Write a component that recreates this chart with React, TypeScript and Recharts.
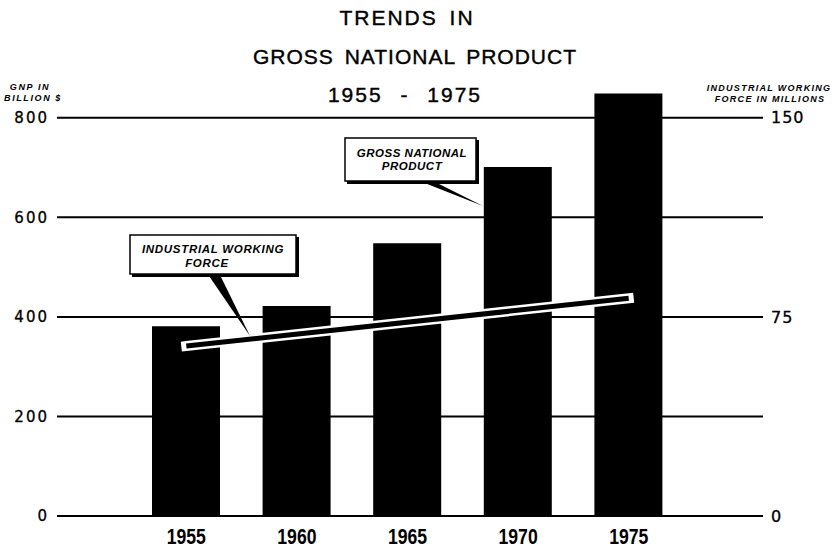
import React from 'react';
import { BarChart, Bar, Line, XAxis, YAxis, CartesianGrid } from 'recharts';

const years = ['1955', '1960', '1965', '1970', '1975'];
const gnpBillions = [381, 422, 548, 701, 849];
const workForceMillions: (number | null)[] = [64, null, null, null, 82];
const leftTicks = [0, 200, 400, 600, 800];
const rightTicks = [0, 75, 150];

const data = years.map((y, i) => ({ year: y, gnp: gnpBillions[i], force: workForceMillions[i] }));

const titleFont = '"Liberation Sans", Arial, sans-serif';
const tickFont = '"DejaVu Sans", sans-serif';

const YearTick = (props: any) => {
  const { x, y, payload } = props;
  return (
    <g transform={`translate(${x},${y})`}>
      <text
        transform="scale(0.8,1)"
        textAnchor="middle"
        dy={20}
        fill="#000"
        fontFamily={titleFont}
        fontWeight="bold"
        fontSize={22}
      >
        {payload.value}
      </text>
    </g>
  );
};

export default function App() {
  return (
    <div style={{ position: 'absolute', left: 0, top: 0, width: 836, height: 550, background: '#fff' }}>
      <BarChart
        width={836}
        height={550}
        data={data}
        margin={{ top: 68, right: 0, bottom: 0, left: 0 }}
        barCategoryGap={0}
      >
        <CartesianGrid horizontal vertical={false} syncWithTicks stroke="#000" strokeWidth={2} strokeOpacity={1} yAxisId="left" />
        <XAxis
          dataKey="year"
          axisLine={false}
          tickLine={false}
          padding={{ left: 74, right: 79 }}
          height={34}
          tickMargin={2}
          tick={<YearTick />}
        />
        <YAxis
          yAxisId="left"
          orientation="left"
          width={57}
          domain={[0, 900]}
          ticks={leftTicks}
          axisLine={false}
          tickLine={false}
          tick={{ fill: '#000', stroke: '#000', strokeWidth: 0.3, fontSize: 15, fontFamily: tickFont, letterSpacing: 2 }}
        />
        <YAxis
          yAxisId="right"
          orientation="right"
          width={73}
          domain={[0, 168.75]}
          ticks={rightTicks}
          axisLine={false}
          tickLine={false}
          tick={{ fill: '#000', stroke: '#000', strokeWidth: 0.3, fontSize: 16, fontFamily: tickFont, letterSpacing: 1, textAnchor: 'start' }}
        />
        <Bar yAxisId="left" dataKey="gnp" fill="#000" barSize={68} isAnimationActive={false} />
        <Line
          yAxisId="right"
          dataKey="force"
          type="linear"
          connectNulls
          stroke="#fff"
          strokeWidth={10}
          strokeLinecap="square"
          dot={false}
          activeDot={false}
          isAnimationActive={false}
        />
        <Line
          yAxisId="right"
          dataKey="force"
          type="linear"
          connectNulls
          stroke="#000"
          strokeWidth={5}
          strokeLinecap="butt"
          dot={false}
          activeDot={false}
          isAnimationActive={false}
        />
      </BarChart>
      <svg
        width={836}
        height={550}
        style={{ position: 'absolute', left: 0, top: 0, pointerEvents: 'none' }}
      >
        <g fontFamily={titleFont} fontSize={21} fill="#000" stroke="#000" strokeWidth={0.4} textAnchor="middle">
          <text x={407} y={25} letterSpacing={2} wordSpacing={4}>TRENDS IN</text>
          <text x={415} y={64} letterSpacing={1} wordSpacing={4}>GROSS NATIONAL PRODUCT</text>
          <text x={405} y={102} letterSpacing={2} wordSpacing={10}>1955 - 1975</text>
        </g>
        <g fontFamily={titleFont} fontSize={9} fontWeight="bold" fontStyle="italic" fill="#000" textAnchor="middle" letterSpacing={1.6}>
          <text x={30} y={90}>GNP IN</text>
          <text x={33} y={101}>BILLION $</text>
        </g>
        <g fontFamily={titleFont} fontSize={9} fontWeight="bold" fontStyle="italic" fill="#000" textAnchor="middle" letterSpacing={1.3}>
          <text x={769} y={91}>INDUSTRIAL WORKING</text>
          <text x={770} y={102}>FORCE IN MILLIONS</text>
        </g>
        {/* callout: industrial working force */}
        <polygon points="207,273 219,273 250,336" fill="#000" />
        <rect x={132} y={237} width={167} height={40} fill="#000" />
        <rect x={130} y={235} width={166} height={39} fill="#fff" stroke="#000" strokeWidth={1.5} />
        <g fontFamily={titleFont} fontSize={11.5} fontWeight="bold" fontStyle="italic" fill="#000" textAnchor="middle" letterSpacing={0.7}>
          <text x={213} y={253}>INDUSTRIAL WORKING</text>
          <text x={207} y={267}>FORCE</text>
        </g>
        {/* callout: gross national product */}
        <polygon points="417,180 431,180 483,206" fill="#000" />
        <rect x={347} y={140} width={132} height={44} fill="#000" />
        <rect x={345} y={138} width={131} height={43} fill="#fff" stroke="#000" strokeWidth={1.5} />
        <g fontFamily={titleFont} fontSize={11.5} fontWeight="bold" fontStyle="italic" fill="#000" textAnchor="middle" letterSpacing={0.5}>
          <text x={412} y={157}>GROSS NATIONAL</text>
          <text x={412} y={170}>PRODUCT</text>
        </g>
      </svg>
    </div>
  );
}
